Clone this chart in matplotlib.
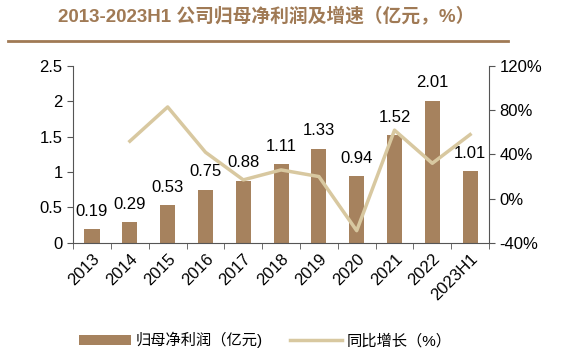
import matplotlib.pyplot as plt
import numpy as np

plt.rcParams['font.family'] = ['Liberation Sans', 'Noto Sans CJK SC', 'DejaVu Sans']

years = ['2013', '2014', '2015', '2016', '2017', '2018', '2019', '2020', '2021', '2022', '2023H1']
profit = [0.19, 0.29, 0.53, 0.75, 0.88, 1.11, 1.33, 0.94, 1.52, 2.01, 1.01]
growth = [None, 52, 83, 42, 17, 26, 20, -29, 62, 32, 58]

bar_color = '#A6825E'
line_color = '#D8C8A0'
title_color = '#A07A55'

fig = plt.figure(figsize=(5.76, 3.63), dpi=100)
ax = fig.add_axes([0.127, 0.331, 0.722, 0.487])
x = np.arange(len(years))

ax.bar(x, profit, width=0.4, color=bar_color, label='归母净利润（亿元)', zorder=2)
for xi, v in zip(x, profit):
    ax.text(xi, v + 0.15, f'{v:.2f}', ha='center', va='bottom', fontsize=12, zorder=5)

ax.set_ylim(0, 2.5)
ax.set_yticks([0, 0.5, 1, 1.5, 2, 2.5])
ax.set_yticklabels(['0', '0.5', '1', '1.5', '2', '2.5'])
ax.set_xlim(-0.5, len(years) - 0.5)
ax.set_xticks(x)
ax.set_xticklabels(years, rotation=45, ha='right', rotation_mode='anchor')
ax.set_xticks(np.arange(len(years) + 1) - 0.5, minor=True)
ax.tick_params(axis='x', which='major', length=0, labelsize=12, pad=6)
ax.tick_params(axis='x', which='minor', length=4, color='#555555')
ax.tick_params(axis='y', labelsize=12, length=4, color='#555555')
for s in ['top', 'right']:
    ax.spines[s].set_visible(False)
for s in ['left', 'bottom']:
    ax.spines[s].set_color('#555555')

ax2 = ax.twinx()
gx = [xi for xi, g in zip(x, growth) if g is not None]
gy = [g for g in growth if g is not None]
ax2.plot(gx, gy, color=line_color, lw=2.5, label='同比增长（%）', zorder=3)
ax2.set_ylim(-40, 120)
ax2.set_yticks([-40, 0, 40, 80, 120])
ax2.set_yticklabels(['-40%', '0%', '40%', '80%', '120%'])
ax2.tick_params(axis='y', labelsize=12, length=4, color='#555555')
for s in ['top', 'left', 'bottom']:
    ax2.spines[s].set_visible(False)
ax2.spines['right'].set_color('#555555')

fig.text(0.1, 0.955, '2013-2023H1 公司归母净利润及增速（亿元，%）', ha='left', va='center',
         fontsize=13.5, fontweight='bold', color=title_color)
fig.add_artist(plt.Line2D([0.014, 0.882], [0.887, 0.887], color=title_color, lw=2))

h1, l1 = ax.get_legend_handles_labels()
h2, l2 = ax2.get_legend_handles_labels()
fig.legend(h1 + h2, l1 + l2, loc='center', bbox_to_anchor=(0.46, 0.063), ncol=2,
           frameon=False, fontsize=11, handlelength=3.4, handleheight=0.6,
           handletextpad=0.3, columnspacing=1.8)

fig.savefig('out.png', dpi=100)
